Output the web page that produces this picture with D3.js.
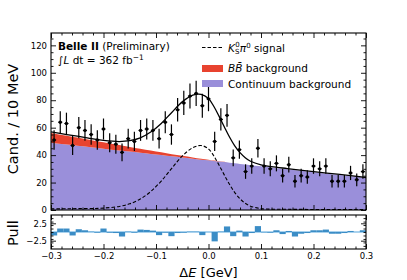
<!DOCTYPE html>
<html>
<head>
<meta charset="utf-8">
<script src="https://cdn.jsdelivr.net/npm/d3@7"></script>
<style>
  body { margin: 0; background: #fff; }
  svg { display: block; }
  text { font-family: "DejaVu Sans", sans-serif; }
</style>
</head>
<body>
<svg id="chart" width="407" height="280"></svg>
<script>
// fit components, sampled along Delta E
var dE = [-0.3, -0.27, -0.25, -0.22, -0.2, -0.17, -0.15, -0.13, -0.11, -0.09, -0.07, -0.05, -0.03, -0.014,
    0, 0.01, 0.02, 0.03, 0.04, 0.05, 0.06, 0.07, 0.08, 0.1, 0.12, 0.15, 0.2, 0.25, 0.3];
var continuum = [49.0, 47.7, 46.9, 45.6, 44.7, 43.4, 42.6, 41.7, 40.9, 40.0, 39.1, 38.3, 37.4, 36.7,
    36.2, 35.7, 35.3, 34.9, 34.4, 34.0, 33.6, 33.2, 32.7, 31.9, 31.0, 29.7, 27.6, 25.5, 23.3];
var bbBar = [7.2, 6.4, 5.9, 5.1, 4.6, 3.9, 3.4, 2.9, 2.4, 2.0, 1.6, 1.2, 0.9, 0.6,
    0.5, 0.4, 0.3, 0.2, 0.1, 0.05, 0, 0, 0, 0, 0, 0, 0, 0, 0];
var signal = [0.8, 0.9, 1.0, 1.1, 1.4, 2.6, 4.5, 8.0, 13.5, 21.1, 30.4, 39.3, 45.4, 47.0,
    44.5, 39.5, 32.8, 25.6, 18.7, 12.7, 8.2, 4.9, 2.8, 1.0, 0.6, 0.5, 0.4, 0.4, 0.4];

// data histogram (51 bins over [-0.3, 0.3])
var counts = [51, 64, 63, 47, 60, 58, 55, 51, 59, 49,
    48, 42, 52, 50, 58, 59, 58, 52, 64, 55,
    73, 78, 83, 85, 76, 81, 50, 66, 69, 38,
    44, 28, 32, 45, 32, 30, 34, 25, 33, 21,
    25, 24, 32, 30, 32, 21, 21, 21, 27, 22, 28];
var pulls = [-1.0, 1.0, 1.0, -1.0, 0.8, 0.5, 0.1, -0.2, 1.0, -0.2,
    -0.3, -1.3, 0.1, -0.2, 0.7, 0.6, 0.4, -0.9, -0.2, -1.2,
    -0.3, -0.2, 0.1, 0.1, -0.9, 0.0, -2.7, 0.1, 1.6, -1.2,
    0.4, -1.3, -0.3, 1.7, -0.1, -0.2, 0.5, -0.6, 0.3, -1.3,
    -0.5, -0.3, 0.5, 0.5, 0.7, -0.5, -0.5, -0.3, 0.3, 0.0, 0.5];

var xTicks = [-0.3, -0.2, -0.1, 0.0, 0.1, 0.2, 0.3];
var yTicks = [0, 20, 40, 60, 80, 100, 120];
var pullTicks = [-2.5, 2.5];

var svg = d3.select("#chart");
var left = 51, right = 366;
var x = d3.scaleLinear().domain([-0.3, 0.3]).range([left, right]);
var y = d3.scaleLinear().domain([0, 129]).range([210, 33]);
var yp = d3.scaleLinear().domain([-4.9, 4.9]).range([249, 215]);

var binW = 0.6 / counts.length;
var centers = counts.map(function (d, i) { return -0.3 + (i + 0.5) * binW; });
var idx = d3.range(dE.length);

// stacked background areas
svg.append("path").datum(idx)
    .attr("fill", "#9a8fda")
    .attr("d", d3.area().curve(d3.curveMonotoneX)
        .x(function (i) { return x(dE[i]); })
        .y0(y(0))
        .y1(function (i) { return y(continuum[i]); }));

svg.append("path").datum(idx)
    .attr("fill", "#e8432f")
    .attr("d", d3.area().curve(d3.curveMonotoneX)
        .x(function (i) { return x(dE[i]); })
        .y0(function (i) { return y(continuum[i]); })
        .y1(function (i) { return y(continuum[i] + bbBar[i]); }));

// signal shape (dashed) and total fit
svg.append("path").datum(idx)
    .attr("fill", "none").attr("stroke", "#000").attr("stroke-width", 1.1)
    .attr("stroke-dasharray", "3.5,2")
    .attr("d", d3.line().curve(d3.curveCatmullRom)
        .x(function (i) { return x(dE[i]); })
        .y(function (i) { return y(signal[i]); }));

svg.append("path").datum(idx)
    .attr("fill", "none").attr("stroke", "#000").attr("stroke-width", 1.3)
    .attr("d", d3.line().curve(d3.curveCatmullRom)
        .x(function (i) { return x(dE[i]); })
        .y(function (i) { return y(continuum[i] + bbBar[i] + signal[i]); }));

// data points with poisson errors
var pts = svg.append("g");
pts.selectAll("line.ey").data(counts).enter().append("line")
    .attr("x1", function (d, i) { return x(centers[i]); })
    .attr("x2", function (d, i) { return x(centers[i]); })
    .attr("y1", function (d) { return y(d - Math.sqrt(d)); })
    .attr("y2", function (d) { return y(d + Math.sqrt(d)); })
    .attr("stroke", "#000").attr("stroke-width", 1.2);
pts.selectAll("line.ex").data(counts).enter().append("line")
    .attr("x1", function (d, i) { return x(centers[i] - binW / 3); })
    .attr("x2", function (d, i) { return x(centers[i] + binW / 3); })
    .attr("y1", function (d) { return y(d); })
    .attr("y2", function (d) { return y(d); })
    .attr("stroke", "#000").attr("stroke-width", 1);
pts.selectAll("circle").data(counts).enter().append("circle")
    .attr("cx", function (d, i) { return x(centers[i]); })
    .attr("cy", function (d) { return y(d); })
    .attr("r", 1.7).attr("fill", "#000");

// pull panel
svg.append("line")
    .attr("x1", left).attr("x2", right)
    .attr("y1", yp(0)).attr("y2", yp(0))
    .attr("stroke", "#8cc3e8").attr("stroke-width", 1.6);
svg.append("g").selectAll("rect").data(pulls).enter().append("rect")
    .attr("x", function (d, i) { return x(centers[i] - binW / 2); })
    .attr("width", function () { return x(binW) - x(0); })
    .attr("y", function (d) { return yp(Math.max(d, 0)); })
    .attr("height", function (d) { return Math.abs(yp(d) - yp(0)); })
    .attr("fill", "#3b8dc6");

// axes helpers
function styleAxis(g, size) {
    g.select(".domain").remove();
    g.attr("font-family", null).attr("font-size", null);
    g.selectAll("line").attr("stroke", "#000").attr("stroke-width", 0.9);
    g.selectAll("text").attr("font-size", size).attr("fill", "#000");
}
function minors(lo, hi, step, majors) {
    var out = [];
    for (var v = lo; v <= hi + 1e-9; v += step) {
        var r = Math.round(v * 1000) / 1000;
        if (!majors.some(function (m) { return Math.abs(m - r) < 1e-6; })) out.push(r);
    }
    return out;
}
var xMinor = minors(-0.3, 0.3, 0.02, xTicks);
var yMinor = minors(0, 125, 5, yTicks);
var pMinor = minors(-4, 4, 1, []);

function panelAxes(ys, yMaj, yMin, fmt, top, bottom, showX) {
    styleAxis(svg.append("g").attr("transform", "translate(" + left + ",0)")
        .call(d3.axisLeft(ys).tickValues(yMaj).tickFormat(fmt).tickSize(-5).tickPadding(4)), "8.5px");
    styleAxis(svg.append("g").attr("transform", "translate(" + left + ",0)")
        .call(d3.axisLeft(ys).tickValues(yMin).tickFormat("").tickSize(-2.5)), "8.5px");
    styleAxis(svg.append("g").attr("transform", "translate(" + right + ",0)")
        .call(d3.axisRight(ys).tickValues(yMaj).tickFormat("").tickSize(-5)), "8.5px");
    styleAxis(svg.append("g").attr("transform", "translate(" + right + ",0)")
        .call(d3.axisRight(ys).tickValues(yMin).tickFormat("").tickSize(-2.5)), "8.5px");
    styleAxis(svg.append("g").attr("transform", "translate(0," + bottom + ")")
        .call(d3.axisBottom(x).tickValues(xTicks).tickFormat(showX ? d3.format(".1f") : "").tickSize(-5).tickPadding(4)), "8.5px");
    styleAxis(svg.append("g").attr("transform", "translate(0," + bottom + ")")
        .call(d3.axisBottom(x).tickValues(xMinor).tickFormat("").tickSize(-2.5)), "8.5px");
    styleAxis(svg.append("g").attr("transform", "translate(0," + top + ")")
        .call(d3.axisTop(x).tickValues(xTicks).tickFormat("").tickSize(-5)), "8.5px");
    styleAxis(svg.append("g").attr("transform", "translate(0," + top + ")")
        .call(d3.axisTop(x).tickValues(xMinor).tickFormat("").tickSize(-2.5)), "8.5px");
    svg.append("rect").attr("x", left).attr("y", top)
        .attr("width", right - left).attr("height", bottom - top)
        .attr("fill", "none").attr("stroke", "#000").attr("stroke-width", 1.1);
}
panelAxes(y, yTicks, yMinor, d3.format("d"), 33, 210, false);
panelAxes(yp, pullTicks, pMinor, d3.format(".1f"), 215, 249, true);

// axis titles
svg.append("text").attr("transform", "translate(18,119) rotate(-90)")
    .attr("text-anchor", "middle").attr("font-size", "14.5px").text("Cand. / 10 MeV");
svg.append("text").attr("transform", "translate(18,233) rotate(-90)")
    .attr("text-anchor", "middle").attr("font-size", "14.5px").text("Pull");
var xl = svg.append("text").attr("x", 208.5).attr("y", 277)
    .attr("text-anchor", "middle").attr("font-size", "13px");
xl.append("tspan").text("Δ");
xl.append("tspan").attr("font-style", "italic").text("E");
xl.append("tspan").text(" [GeV]");

// experiment label
var t1 = svg.append("text").attr("x", 58).attr("y", 50).attr("font-size", "10.5px");
t1.append("tspan").attr("font-weight", "bold").text("Belle II");
t1.append("tspan").text(" (Preliminary)");
var t2 = svg.append("text").attr("x", 58).attr("y", 64).attr("font-size", "10.5px");
t2.append("tspan").text("∫");
t2.append("tspan").attr("font-style", "italic").text("L");
t2.append("tspan").text(" dt = 362 fb");
t2.append("tspan").attr("font-size", "7.5px").attr("baseline-shift", "super").text("−1");

// legend
var lg = svg.append("g").attr("font-size", "10.5px");
lg.append("line").attr("x1", 202).attr("x2", 223).attr("y1", 47.5).attr("y2", 47.5)
    .attr("stroke", "#000").attr("stroke-width", 1.1).attr("stroke-dasharray", "3.5,2");
lg.append("rect").attr("x", 202).attr("y", 65).attr("width", 21).attr("height", 7).attr("fill", "#e8432f");
lg.append("rect").attr("x", 202).attr("y", 80).attr("width", 21).attr("height", 7).attr("fill", "#9a8fda");
var l1 = lg.append("text").attr("x", 228).attr("y", 51.5);
l1.append("tspan").attr("font-style", "italic").text("K");
l1.append("tspan").attr("font-size", "7px").attr("dy", 2.5).text("S");
l1.append("tspan").attr("font-size", "7px").attr("dx", -4).attr("dy", -7).text("0");
l1.append("tspan").attr("font-style", "italic").attr("dy", 4.5).text("π");
l1.append("tspan").attr("font-size", "7px").attr("dy", -4).text("0");
l1.append("tspan").attr("dy", 4).text(" signal");
var l2 = lg.append("text").attr("x", 228).attr("y", 72);
l2.append("tspan").attr("font-style", "italic").text("BB\u0304");
l2.append("tspan").text(" background");
lg.append("text").attr("x", 228).attr("y", 87.5).text("Continuum background");
</script>
</body>
</html>
